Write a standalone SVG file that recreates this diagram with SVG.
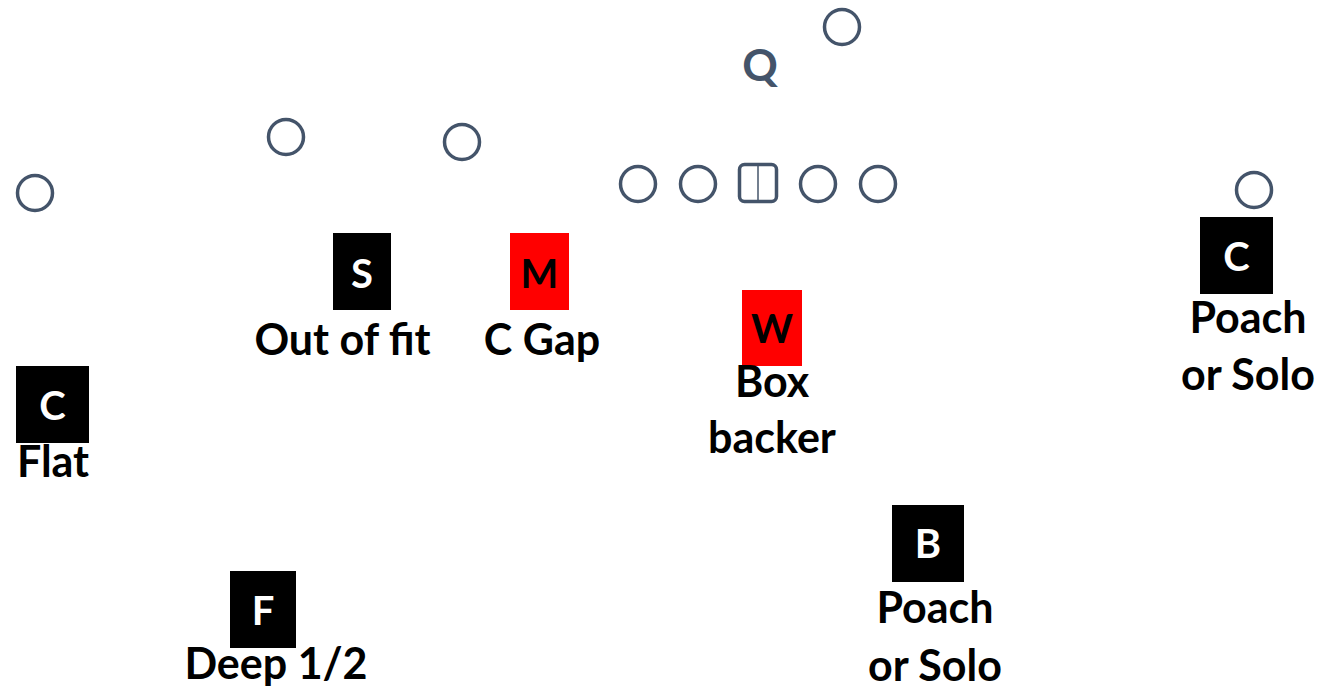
<svg xmlns="http://www.w3.org/2000/svg" width="1322" height="691" viewBox="0 0 1322 691">
<style>
.off{fill:none;stroke:#44546a;stroke-width:3.5}
.blk{fill:#000}
.red{fill:#ff0000}
.lw{font-family:Lato,"Open Sans",sans-serif;font-weight:bold;font-size:40px;fill:#fff;text-anchor:middle}
.lb{font-family:Lato,"Open Sans",sans-serif;font-weight:bold;font-size:40px;fill:#000;text-anchor:middle}
.lab{font-family:Lato,"Open Sans",sans-serif;font-weight:bold;font-size:43px;fill:#000;text-anchor:middle}
.q{font-family:Lato,"Open Sans",sans-serif;font-weight:bold;font-size:44px;fill:#44546a;text-anchor:middle}
</style>
<rect width="1322" height="691" fill="#fff"/>
<g id="offense">
<circle id="wr-left" class="off" cx="35" cy="193" r="17.5"/>
<circle id="wr-slot1" class="off" cx="286" cy="137" r="17.5"/>
<circle id="wr-slot2" class="off" cx="462" cy="142" r="17.5"/>
<circle id="back" class="off" cx="842" cy="27" r="17.5"/>
<text id="qb" class="q" x="760" y="81">Q</text>
<circle id="lt" class="off" cx="638" cy="184" r="17.5"/>
<circle id="lg" class="off" cx="698" cy="184" r="17.5"/>
<g id="center">
<rect class="off" x="739.5" y="164.5" width="37" height="37" rx="5"/>
<line x1="758" y1="165" x2="758" y2="201" stroke="#44546a" stroke-width="1.5"/>
</g>
<circle id="rg" class="off" cx="818" cy="184" r="17.5"/>
<circle id="rt" class="off" cx="878" cy="184" r="17.5"/>
<circle id="wr-right" class="off" cx="1254" cy="190" r="17.5"/>
</g>
<g id="connectors"></g>
<g id="S">
<rect class="blk" x="333" y="233" width="58" height="77"/>
<text class="lw" x="362" y="288">S</text>
<text class="lab" x="342.5" y="355">Out of fit</text>
</g>
<g id="M">
<rect class="red" x="510" y="233" width="59" height="77"/>
<text class="lb" x="539.5" y="288">M</text>
<text class="lab" x="542" y="355">C Gap</text>
</g>
<g id="W">
<rect class="red" x="742" y="290" width="60" height="76"/>
<text class="lb" x="772" y="343">W</text>
<text class="lab" x="772" y="397">Box</text>
<text class="lab" x="772" y="453">backer</text>
</g>
<g id="C-right">
<rect class="blk" x="1200" y="217" width="73" height="77"/>
<text class="lw" x="1236.5" y="271">C</text>
<text class="lab" x="1248" y="333">Poach</text>
<text class="lab" x="1248" y="390">or Solo</text>
</g>
<g id="C-left">
<rect class="blk" x="16" y="366" width="73" height="77"/>
<text class="lw" x="52.5" y="420">C</text>
<text class="lab" x="53" y="477">Flat</text>
</g>
<g id="F">
<rect class="blk" x="230" y="571" width="66" height="77"/>
<text class="lw" x="263" y="625">F</text>
<text class="lab" x="276" y="679">Deep 1/2</text>
</g>
<g id="B">
<rect class="blk" x="892" y="505" width="72" height="77"/>
<text class="lw" x="928" y="558">B</text>
<text class="lab" x="935" y="623">Poach</text>
<text class="lab" x="935" y="681">or Solo</text>
</g>
</svg>
